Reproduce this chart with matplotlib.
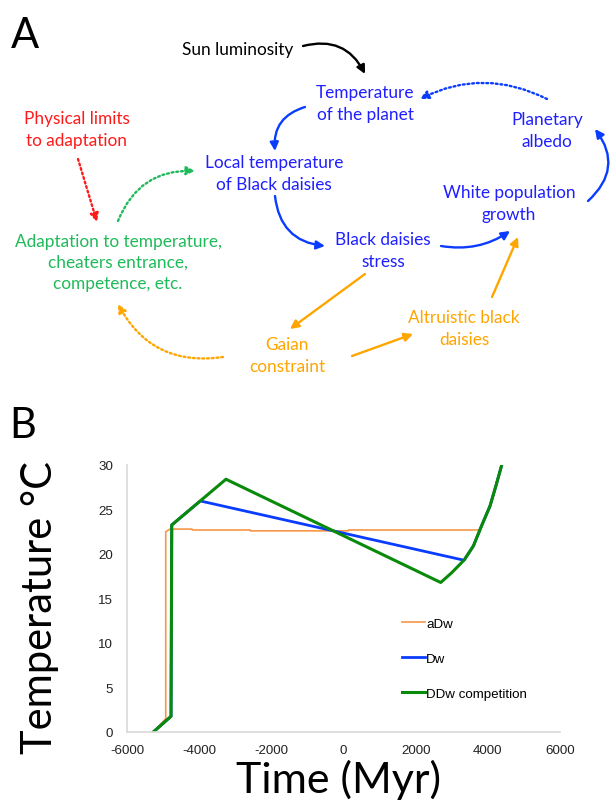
import numpy as np
import matplotlib
matplotlib.use("Agg")
import matplotlib.pyplot as plt

plt.rcParams['axes.unicode_minus'] = False

# ---- panel B data ----
x_adw = [-5270, -4927, -4927, -4808, -4200, -4190, -2590, -2580, 130, 140, 3784, 3830, 4061, 4227, 4420]
y_adw = [0, 1.5, 22.5, 22.8, 22.8, 22.7, 22.7, 22.6, 22.6, 22.7, 22.7, 23.2, 25.4, 27.7, 30.5]

x_dw = [-5271, -4780, -4760, -3969, 3340, 3599, 3830, 4061, 4227, 4420]
y_dw = [0, 1.76, 23.26, 25.96, 19.3, 20.9, 23.2, 25.4, 27.7, 30.5]

x_ddw = [-5271, -4780, -4760, -3258, 2694, 3000, 3349, 3599, 3830, 4061, 4227, 4420]
y_ddw = [0, 1.76, 23.26, 28.4, 16.8, 17.9, 19.35, 20.9, 23.2, 25.4, 27.7, 30.5]

series_names = ['aDw', 'Dw', 'DDw competition']
x_ticks = [-6000, -4000, -2000, 0, 2000, 4000, 6000]
y_ticks = [0, 5, 10, 15, 20, 25, 30]

# ---- panel A diagram ----
BLUE_T = '#1f1fff'
BLUE = '#0a3cff'
GREEN = '#1fba5a'
RED = '#ff1a1a'
ORANGE = '#ffa500'

boxes = [
    ("Sun luminosity", 238, 50, 'black'),
    ("Temperature\nof the planet", 365, 104, BLUE_T),
    ("Planetary\nalbedo", 547, 131, BLUE_T),
    ("Physical limits\nto adaptation", 77, 130, RED),
    ("Local temperature\nof Black daisies", 274, 174, BLUE_T),
    ("White population\ngrowth", 509, 204, BLUE_T),
    ("Adaptation to temperature,\ncheaters entrance,\ncompetence, etc.", 118, 263, GREEN),
    ("Black daisies\nstress", 383, 251, BLUE_T),
    ("Altruistic black\ndaisies", 464, 329, ORANGE),
    ("Gaian\nconstraint", 287, 356, ORANGE),
]

# tail, head, colour, curvature, dotted
links = [
    ((303, 47), (365, 75), 'black', -0.4, False),
    ((547, 100), (420, 100), BLUE, 0.25, True),
    ((305, 108), (275, 152), BLUE, 0.4, False),
    ((78, 160), (97, 223), RED, 0.0, True),
    ((118, 222), (195, 172), GREEN, -0.35, True),
    ((275, 197), (325, 247), BLUE, 0.4, False),
    ((441, 247), (510, 232), BLUE, 0.2, False),
    ((588, 202), (595, 130), BLUE, 0.45, False),
    ((365, 275), (290, 330), ORANGE, 0.0, False),
    ((492, 298), (518, 238), ORANGE, 0.0, False),
    ((352, 357), (413, 335), ORANGE, 0.0, False),
    ((223, 358), (118, 305), ORANGE, -0.35, True),
]

fig = plt.figure(figsize=(6.1, 8.04), dpi=100)

ov = fig.add_axes([0, 0, 1, 1])
ov.set_xlim(0, 610)
ov.set_ylim(804, 0)
ov.axis('off')

for txt, x, y, c in boxes:
    ov.text(x, y, txt, color=c, ha='center', va='center', fontsize=12.4,
            family='Lato', linespacing=1.4)

for (x0, y0), (x1, y1), c, rad, dotted in links:
    ov.annotate('', xy=(x1, y1), xytext=(x0, y0),
                arrowprops=dict(arrowstyle='-|>,head_length=0.5,head_width=0.25',
                                color=c, lw=1.7,
                                linestyle=(0, (0.8, 1.2)) if dotted else '-',
                                connectionstyle='arc3,rad=%s' % rad,
                                shrinkA=0, shrinkB=0, mutation_scale=10))

ov.text(25, 36, 'A', fontsize=30, family='Lato', ha='center', va='center')
ov.text(23, 426, 'B', fontsize=30, family='Lato', ha='center', va='center')

# ---- panel B plot ----
ax = fig.add_axes([127/610, (804-733)/804, (560-127)/610, (733-466)/804])
ax.plot(x_adw, y_adw, color='#f79646', lw=1.2, label=series_names[0])
ax.plot(x_dw, y_dw, color='#0a3cff', lw=2.0, label=series_names[1])
ax.plot(x_ddw, y_ddw, color='#0a8a0a', lw=2.2, label=series_names[2])

ax.set_xlim(-6000, 6000)
ax.set_ylim(0, 30)
ax.set_xticks(x_ticks)
ax.set_yticks(y_ticks)
ax.tick_params(length=0, labelsize=9.6, labelcolor='#222222')
ax.tick_params(axis='y', pad=10)
ax.tick_params(axis='x', pad=9)
for lab in ax.get_xticklabels() + ax.get_yticklabels():
    lab.set_family('Liberation Sans')
for s in ['top', 'right']:
    ax.spines[s].set_visible(False)
for s in ['left', 'bottom']:
    ax.spines[s].set_color('#d9d9d9')
    ax.spines[s].set_linewidth(1.2)

leg = ax.legend(loc='upper left', bbox_to_anchor=(1622, 12.9), bbox_transform=ax.transData,
                frameon=False, handlelength=1.7, handletextpad=0.1, labelspacing=1.72,
                borderpad=0, borderaxespad=0, prop={'family': 'Liberation Sans', 'size': 9.6})

ov.text(40, 608, 'Temperature \u00b0C', rotation=90, fontsize=30, family='Lato',
        ha='center', va='center')
ov.text(338, 780, 'Time (Myr)', fontsize=31, family='Lato', ha='center', va='center')

fig.savefig('out.png', dpi=100)
